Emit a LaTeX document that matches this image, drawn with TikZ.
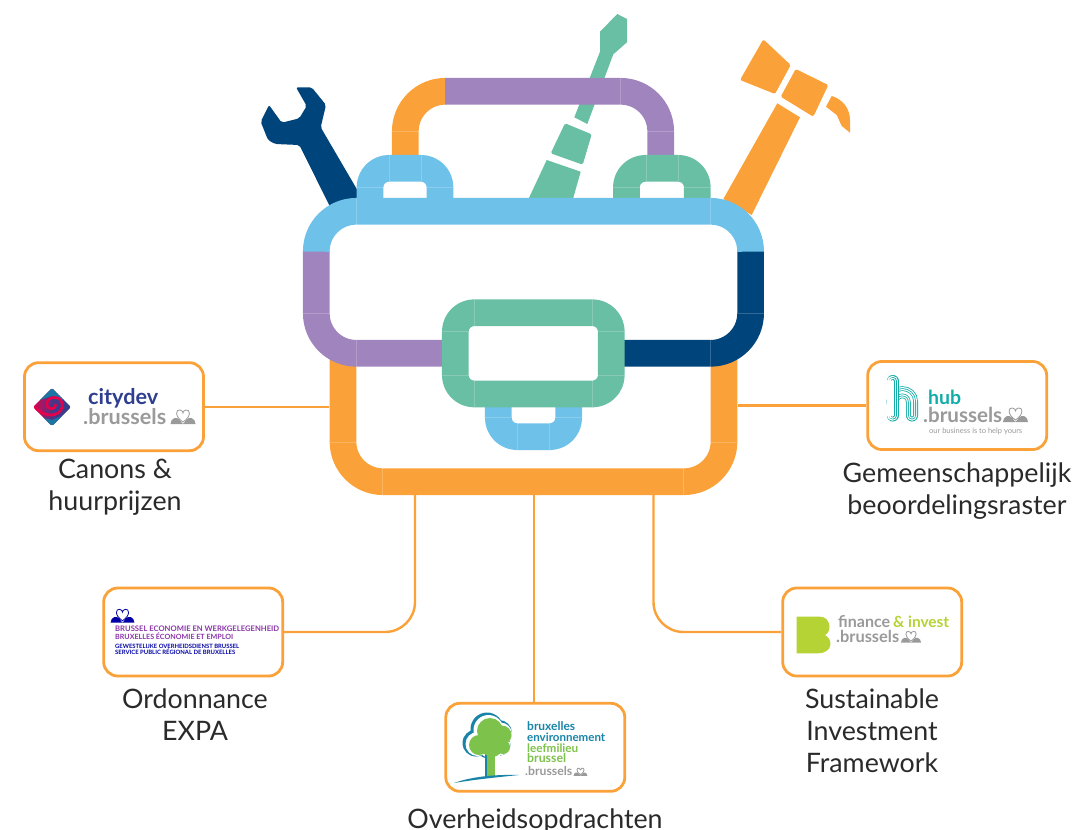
\documentclass[tikz,border=0pt]{standalone}
\usepackage{fontspec}
\usepackage{graphicx}
\setmainfont{Lato}
\definecolor{cOrange}{HTML}{FAA239}
\definecolor{cPurple}{HTML}{A084BD}
\definecolor{cBlue}{HTML}{6EC1E8}
\definecolor{cNavy}{HTML}{00447C}
\definecolor{cGreen}{HTML}{69BFA3}
\definecolor{cGrey}{HTML}{9A9A9A}
\definecolor{cCity}{HTML}{2F3F8F}
\definecolor{cRed}{HTML}{E6004C}
\definecolor{cTeal}{HTML}{12ADA8}
\definecolor{cLime}{HTML}{B5D334}
\definecolor{cEnv}{HTML}{1784A8}
\definecolor{cLeaf}{HTML}{7DC24B}
\definecolor{cViolet}{HTML}{8A35A8}
\definecolor{cInk}{HTML}{2A2A2A}
\newcommand{\fitw}[2]{\resizebox{#1pt}{!}{#2}}
\newcommand{\seam}[2]{\draw[seam] #1 -- #2;}
\tikzset{
  band/.style={line width=26.7pt,line cap=butt,line join=round},
  seam/.style={draw=white,opacity=.2,line width=.6pt},
  tool/.style={rounded corners=1.5pt},
  card/.style={draw=cOrange,line width=2.8pt,rounded corners=14pt,fill=white,minimum width=179pt,minimum height=88pt,inner sep=0pt},
  conn/.style={draw=cOrange,line width=2.4pt},
  lab/.style={font=\fontsize{26.8}{32}\selectfont,text=cInk,align=center,anchor=north,inner sep=0pt},
  logo/.style={anchor=base west,inner sep=0pt,font=\bfseries},
  heartswan/.pic={
    \fill[#1] (-12.5,7) .. controls (-12.5,1) and (-6,-1) .. (-3,3) .. controls (-2,5) and (-1,6) .. (0,7) .. controls (1,6) and (2,5) .. (3,3) .. controls (6,-1) and (12.5,1) .. (12.5,7) -- cycle;
    \draw[#1,fill=white,line width=.8pt] (0,5) .. controls (-9,-1) and (-7,-8) .. (-3,-7) .. controls (-1,-7) and (0,-5) .. (0,-4) .. controls (0,-5) and (1,-7) .. (3,-7) .. controls (7,-8) and (9,-1) .. (0,5) -- cycle;
  }
}
\begin{document}
\begin{tikzpicture}[x=1pt,y=-1pt]
\useasboundingbox (0,0) rectangle (1074,830);

% ---- tools
\fill[cNavy,rounded corners=2pt] (296,87.3) -- (311.7,87.3) -- (326,105) -- (320.7,127.3) -- (362,198) -- (331.7,210) -- (299.3,145) -- (275,144) -- (268,140) -- (260.7,121.7) -- (269,105) -- (281.7,122.7) -- (299.3,118.3) -- (306.7,106) -- cycle;
\fill[cGreen] (617.3,14) -- (627,19) -- (627,42.3) -- (613.3,54.3) -- (587.3,124) -- (574.3,117.3) -- (600,51.7) -- (600,31.7) -- cycle;
\fill[cGreen,tool] (565,123.3) -- (591.7,134.3) -- (582.7,164.7) -- (550.7,153.3) -- cycle;
\fill[cGreen] (546.7,160) -- (580.7,171.7) -- (572.7,200) -- (528,200) -- cycle;
\fill[cOrange] (777.3,103.3) -- (800,117.3) -- (751.7,215) -- (723.3,199) -- cycle;
\fill[cOrange,tool] (763.3,39.3) -- (790.7,65) -- (775,94) -- (740,80) -- cycle;
\fill[cOrange,tool] (795.7,69) -- (828.3,85) -- (813.3,116.7) -- (780.7,96.7) -- cycle;
\fill[cOrange] (831.7,96) .. controls (842,99) and (850,108) .. (850,120) -- (850,132.7) -- (841.7,126) -- (836.7,115) -- (826,106.7) -- cycle;

% ---- handle
\draw[band,cOrange,rounded corners=40pt] (405.3,156) -- (405.3,91.3) -- (446,91.3);
\draw[band,cPurple,rounded corners=40pt] (445,91.3) -- (660.7,91.3) -- (660.7,156);
\seam{(392,131)}{(418.7,131)}
\seam{(620,78)}{(620,104.7)}
\seam{(647,131)}{(674,131)}

% ---- orange body
\draw[band,cOrange,rounded corners=40pt] (343,350) -- (343,481.7) -- (724,481.7) -- (724,350);
\seam{(329.7,442)}{(356.4,442)}
\seam{(710.7,442)}{(737.4,442)}
\seam{(382.7,468.3)}{(382.7,495)}
\seam{(683.7,468.3)}{(683.7,495)}

% ---- latches
\draw[band,cBlue,rounded corners=19pt] (370,199) -- (370,168.3) -- (440,168.3) -- (440,199);
\draw[band,cGreen,rounded corners=19pt] (626.4,199) -- (626.4,168.3) -- (697.3,168.3) -- (697.3,199);
\seam{(356.7,187)}{(383,187)}
\seam{(426.7,187)}{(453.3,187)}
\seam{(389,155)}{(389,181)}
\seam{(421,155)}{(421,181)}
\seam{(613,187)}{(640,187)}
\seam{(684,187)}{(710.7,187)}
\seam{(646,155)}{(646,181)}
\seam{(678,155)}{(678,181)}

% ---- lid
\draw[band,cPurple,rounded corners=40pt] (316.3,251) -- (316.3,353.3) -- (445,353.3);
\draw[band,cNavy,rounded corners=40pt] (750.6,251) -- (750.6,353.3) -- (622,353.3);
\draw[band,cBlue,rounded corners=40pt] (316.3,251.5) -- (316.3,211.3) -- (750.6,211.3) -- (750.6,251.5);
\seam{(356.7,198)}{(356.7,224.7)}
\seam{(710.7,198)}{(710.7,224.7)}
\seam{(303,313)}{(329.7,313)}
\seam{(737,313)}{(763.7,313)}
\seam{(356.3,340)}{(356.3,366.7)}
\seam{(710.7,340)}{(710.7,366.7)}

% ---- small latch and clasp
\draw[band,cBlue,rounded corners=19pt] (498.3,406) -- (498.3,436.7) -- (568.7,436.7) -- (568.7,406);
\seam{(485,417.5)}{(511,417.5)}
\seam{(555,417.5)}{(582,417.5)}
\seam{(517.5,423.3)}{(517.5,450)}
\seam{(549.5,423.3)}{(549.5,450)}
\draw[band,cGreen,rounded corners=19pt] (455.3,312.7) rectangle (611.3,394);
\seam{(474,299.3)}{(474,326)}
\seam{(592.5,299.3)}{(592.5,326)}
\seam{(474,381)}{(474,407)}
\seam{(592.5,381)}{(592.5,407)}
\seam{(442,331)}{(468.7,331)}
\seam{(598,331)}{(624.7,331)}
\seam{(442,375)}{(468.7,375)}
\seam{(598,375)}{(624.7,375)}

% ---- cards
\node[card] (city) at (114,406.7) {};
\node[card] (hub) at (957.2,405.5) {};
\node[card] (expa) at (193.2,632) {};
\node[card] (fin) at (872.2,632) {};
\node[card] (env) at (535.3,747.3) {};

% ---- connectors
\node[inner sep=0pt,minimum width=408pt,minimum height=135pt] (body) at (533.5,427.5) {};
\coordinate (tapL) at (415,495);
\coordinate (tapC) at (534,495);
\coordinate (tapR) at (653.5,495);
\draw[conn] (city.east) -- (body.west |- city.east);
\draw[conn] (hub.west) -- (body.east |- hub.west);
\draw[conn,rounded corners=30pt] (tapL) |- (expa.east);
\draw[conn] (tapC) -- (tapC |- env.north);
\draw[conn,rounded corners=30pt] (tapR) |- (fin.west);

% ---- citydev logo
\begin{scope}
  \clip[rounded corners=2pt] (52,388) -- (71,407) -- (52,426) -- (33,407) -- cycle;
  \shade[left color=cRed,right color=cCity,middle color=cCity!85!cRed] (33,388) rectangle (71,426);
  \fill[cEnv!80!cCity] (52,388) -- (64,400) -- (52,396) -- (40,400) -- cycle;
  \fill[cEnv!80!cCity] (52,426) -- (62,416) -- (52,420) -- (44,418) -- cycle;
  \draw[cRed,line width=2.6pt] (36,408) .. controls (48,421) and (65,414) .. (62,403) .. controls (60,395) and (47,396) .. (47,404) .. controls (47,411) and (56,410) .. (56,404);
\end{scope}
\node[logo,text=cCity] (cityA) at (88,404) {\fitw{70}{citydev}};
\node[logo,text=cGrey] (cityB) at (83,424) {\fitw{83}{.brussels}};
\pic at (183,417) {heartswan={cGrey}};

% ---- hub logo
\foreach \w/\c in {12/cTeal,10.4/white,8/cTeal,6.4/white,4/cTeal,2.4/white}{
  \draw[\c,line width=\w pt,line cap=round] (892.5,402) .. controls (892.5,389) and (912,389) .. (912,402) -- (912,415.5);
}
\foreach \w/\c in {12/cTeal,10.4/white,8/cTeal,6.4/white,4/cTeal,2.4/white}{
  \draw[\c,line width=\w pt,line cap=round] (892.5,415.5) -- (892.5,381);
}
\node[logo,text=cTeal] (hubA) at (928,404) {\fitw{33}{hub}};
\node[logo,text=cGrey] (hubB) at (923,422) {\fitw{79}{.brussels}};
\pic at (1015.5,415) {heartswan={cGrey}};
\node[logo,text=cGrey,font=\normalfont] (hubC) at (929,433) {\fitw{93}{our business is to help yours}};

% ---- economy logo
\pic[scale=.95] at (122.5,616) {heartswan={blue!65!black}};
\node[logo,text=cViolet] (ecoA) at (115,631) {\fitw{164}{BRUSSEL ECONOMIE EN WERKGELEGENHEID}};
\node[logo,text=cViolet] (ecoB) at (115,639) {\fitw{118}{BRUXELLES ÉCONOMIE ET EMPLOI}};
\node[logo,text=blue!65!black] (ecoC) at (115,648.5) {\fitw{124}{GEWESTELIJKE OVERHEIDSDIENST BRUSSEL}};
\node[logo,text=blue!65!black] (ecoD) at (115,654.5) {\fitw{120}{SERVICE PUBLIC RÉGIONAL DE BRUXELLES}};

% ---- finance logo
\fill[cLime] (796.7,616.7) -- (820,616.7) .. controls (831,616.7) and (832,632) .. (825,635) .. controls (834,640) and (832,653.3) .. (818,653.3) -- (796.7,653.3) -- cycle;
\node[logo,text=cGrey] (finA) at (838,627) {\fitw{52}{finance}};
\node[logo,text=cLime] (finB) at (893,627) {\fitw{56}{\&\ invest}};
\node[logo,text=cGrey] (finC) at (836,642) {\fitw{63}{.brussels}};
\pic[scale=.8] at (911,637) {heartswan={cGrey}};

% ---- environment logo
\foreach \x/\y/\r in {490/731/13,502/735/9.5,479/745/10,492/746/11,503/747/7}{
  \fill[cEnv] (\x-3,\y-2) circle[radius=\r+3.5];
}
\foreach \x/\y/\r in {490/731/13,502/735/9.5,479/745/10,492/746/11,503/747/7}{
  \fill[white] (\x-1.5,\y-1) circle[radius=\r+2];
}
\fill[white] (492,752) rectangle (500,778);
\fill[cEnv] (484.5,752) rectangle (486.5,778);
\fill[cLeaf] (486.5,752) rectangle (495,776);
\foreach \x/\y/\r in {490/731/13,502/735/9.5,479/745/10,492/746/11,503/747/7}{
  \fill[cLeaf] (\x,\y) circle[radius=\r];
}
\fill[cEnv] (454,783) .. controls (475,775.5) and (500,774.5) .. (519,775) .. controls (495,777.5) and (475,779.5) .. (454,783) -- cycle;
\node[logo,text=cEnv] (envA) at (527,730) {\fitw{48}{bruxelles}};
\node[logo,text=cEnv] (envB) at (527,741) {\fitw{78}{environnement}};
\node[logo,text=cLeaf] (envC) at (527,752) {\fitw{51}{leefmilieu}};
\node[logo,text=cLeaf] (envD) at (527,762.5) {\fitw{39}{brussel}};
\node[logo,text=cGrey] (envE) at (525,775) {\fitw{47}{.brussels}};
\pic[scale=.55] at (580.5,772) {heartswan={cGrey}};

% ---- labels
\node[lab] (labCity) at (115,458.4) {Canons \&\\huurprijzen};
\node[lab] (labHub) at (957,462.4) {Gemeenschappelijk\\beoordelingsraster};
\node[lab] (labExpa) at (195,688.4) {Ordonnance\\EXPA};
\node[lab] (labFin) at (872,688.4) {Sustainable\\Investment\\Framework};
\node[lab] (labEnv) at (535,808.4) {Overheidsopdrachten};
\end{tikzpicture}
\end{document}
